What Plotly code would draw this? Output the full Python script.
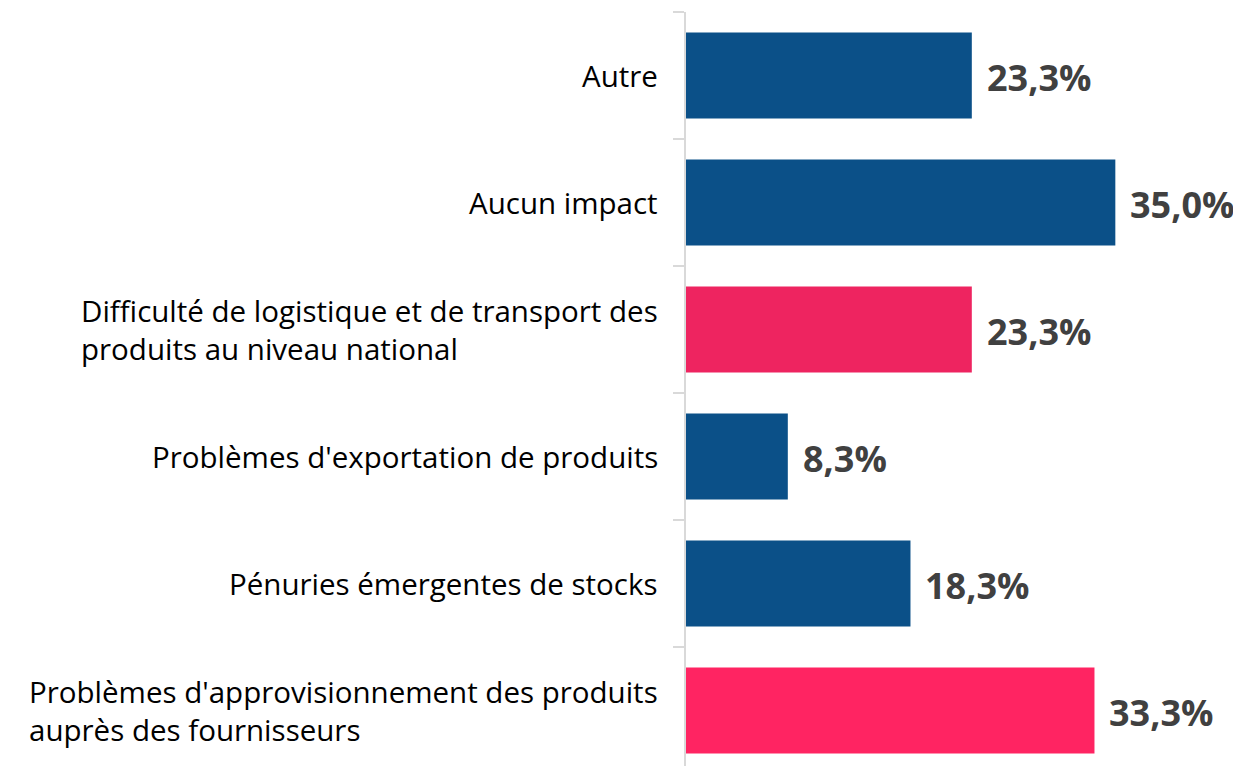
import plotly.graph_objects as go

categories = [
    "Autre",
    "Aucun impact",
    "Difficulté de logistique et de transport des<br>produits au niveau national",
    "Problèmes d'exportation de produits",
    "Pénuries émergentes de stocks",
    "Problèmes d'approvisionnement des produits<br>auprès des fournisseurs",
]
values = [23.3, 35.0, 23.3, 8.3, 18.3, 33.3]
value_labels = ["23,3%", "35,0%", "23,3%", "8,3%", "18,3%", "33,3%"]
colors = ["#0B5088", "#0B5088", "#EE2460", "#0B5088", "#0B5088", "#FF2462"]

fig = go.Figure()
fig.add_trace(go.Bar(
    x=values, y=categories, orientation="h",
    marker=dict(color=colors, line=dict(width=0)),
    hoverinfo="skip",
))

annotations = []
for cat, v, lab in zip(categories, values, value_labels):
    annotations.append(dict(
        x=v, y=cat, xref="x", yref="y", text=lab, showarrow=False,
        xanchor="left", yanchor="middle", xshift=13, yshift=-2,
        font=dict(family="Open Sans", size=36, color="#404040", weight="bold"),
    ))
    annotations.append(dict(
        x=0, y=cat, xref="paper", yref="y", text=cat, showarrow=False,
        xanchor="right", yanchor="middle", align="left",
        xshift=-26, yshift=0,
        font=dict(family="Open Sans", size=29.5, color="#000000"),
    ))

fig.update_layout(
    width=1233, height=758,
    margin=dict(l=678, r=3, t=4, b=0),
    paper_bgcolor="white", plot_bgcolor="white",
    bargap=0.323,
    showlegend=False,
    annotations=annotations,
    xaxis=dict(range=[0, 45.0], visible=False, fixedrange=True),
    yaxis=dict(
        type="category", range=[5.437, -0.5], tickson="boundaries",
        showticklabels=False, ticks="outside", ticklen=11, tickwidth=2,
        tickcolor="#D9D9D9", showline=True, linecolor="#D9D9D9", linewidth=2,
        showgrid=False, zeroline=False, fixedrange=True,
    ),
)

fig.write_html("out.html", config={"displayModeBar": False})
